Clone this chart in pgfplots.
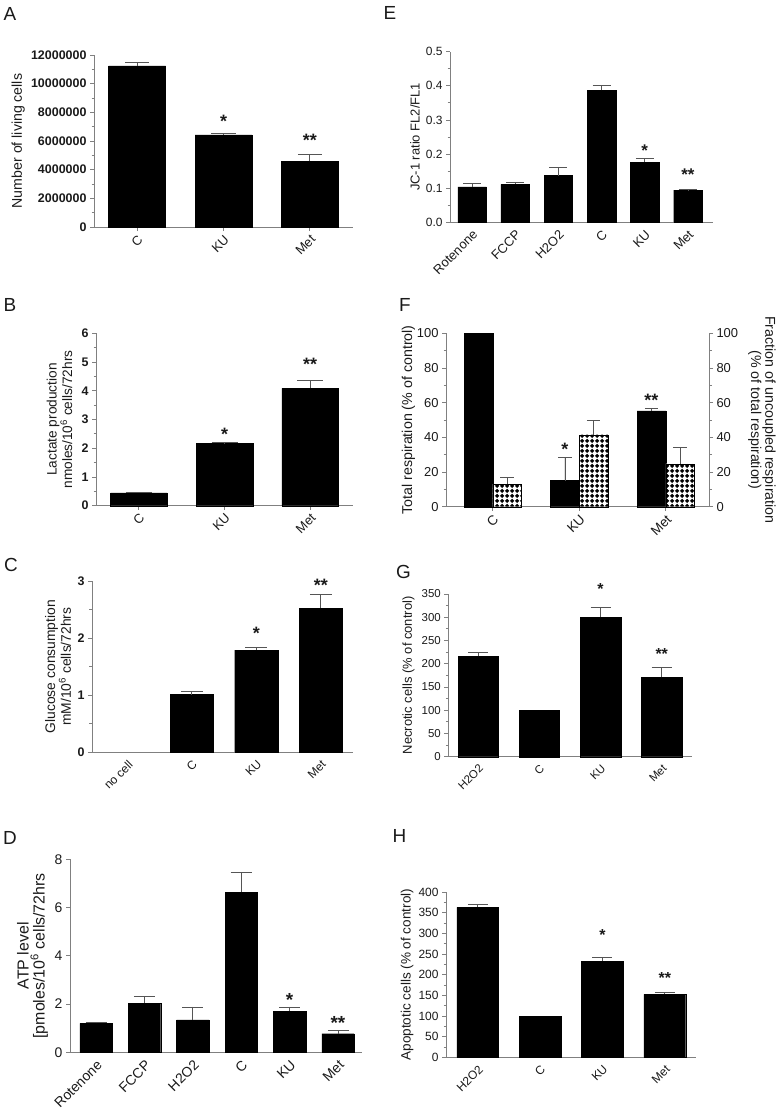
\documentclass[border=0pt]{standalone}
\usepackage{fontspec}
\setmainfont{Liberation Sans}
\usepackage{pgfplots}
\pgfplotsset{compat=1.18}
\usetikzlibrary{patterns}

\definecolor{axgray}{HTML}{808080}
\definecolor{txt}{HTML}{1A1A1A}
\definecolor{errgray}{HTML}{555555}

% rotated checkerboard used for the uncoupled fraction in F
\pgfdeclarepatternformonly{diamonds}{\pgfpointorigin}{\pgfpoint{5bp}{5bp}}{\pgfpoint{5bp}{5bp}}{%
  \pgfpathmoveto{\pgfpoint{2.5bp}{-0.1bp}}%
  \pgfpathlineto{\pgfpoint{5.1bp}{2.5bp}}%
  \pgfpathlineto{\pgfpoint{2.5bp}{5.1bp}}%
  \pgfpathlineto{\pgfpoint{-0.1bp}{2.5bp}}%
  \pgfpathclose\pgfusepath{fill}}

\newcommand{\fs}[1]{\fontsize{#1}{#1}\selectfont}

\pgfplotsset{
  panel/.style={
    scale only axis, anchor=south west,
    axis lines*=left,
    axis line style={draw=axgray, line width=1bp},
    tick style={draw=axgray, line width=0.8bp},
    tick align=outside, major tick length=4bp, minor tick length=2.5bp,
    ybar, clip=false, ymin=0, enlargelimits=false,
    /pgf/number format/assume math mode=true,
    xticklabel style={rotate=45, anchor=north east, text=txt, inner sep=2bp},
    yticklabel style={text=txt},
    minor y tick num=1,
  },
  noxticks/.style={xtick style={draw=none}},
  ylab/.style 2 args={every axis y label/.style={at={(axis description cs:#1,0.5)},
    rotate=90, anchor=center, align=center, text=txt, font=\fs{#2}}},
  bars/.style 2 args={fill=black, draw=black, bar shift=0pt, bar width=#1,
    error bars/.cd, y dir=plus, y explicit,
    error bar style={draw=errgray, line width=0.9bp},
    error mark options={rotate=90, draw=errgray, line width=0.9bp, mark size=#2},
    /pgfplots/.cd},
  plainbars/.style={fill=black, draw=black, bar shift=0pt, bar width=#1},
}
\tikzset{sig/.style={font=\fs{#1}\bfseries, text=txt, anchor=center, inner sep=0pt, yshift={-0.22*#1bp}}}

\begin{document}
\begin{tikzpicture}
\path[use as bounding box] (0,0) rectangle (782bp,-1113bp);

% ---------------- A
\begin{axis}[panel, at={(94bp,-227bp)}, width=259bp, height=172bp,
  xmin=-0.5, xmax=2.5, ymax=12000000,
  ytick={0,2000000,4000000,6000000,8000000,10000000,12000000},
  scaled y ticks=false,
  yticklabel style={/pgf/number format/fixed, /pgf/number format/1000 sep={}, font=\fs{12.5}\bfseries},
  xtick={0,1,2}, xticklabels={C,KU,Met}, xticklabel style={font=\fs{13}},
  ylabel={Number of living cells}, ylab={-0.293}{14.2}]
\addplot[bars={0.66}{12bp}] table[x=x,y=y,y error=e]{
x y e
0 11250000 240000
1 6420000 80000
2 4580000 510000
};
\node[sig=18] at (axis cs:1,7670000) {*};
\node[sig=18] at (axis cs:2,6350000) {**};
\end{axis}

% ---------------- B
\begin{axis}[panel, at={(96bp,-505.7bp)}, width=257bp, height=172.4bp,
  xmin=-0.5, xmax=2.5, ymax=6, ytick={0,1,...,6},
  yticklabel style={font=\fs{12.5}\bfseries},
  xtick={0,1,2}, xticklabels={C,KU,Met}, xticklabel style={font=\fs{13}},
  ylabel={Lactate production\\nmoles/10\textsuperscript{6} cells/72hrs}, ylab={-0.142}{13.7}]
\addplot[bars={0.66}{13bp}] table[x=x,y=y,y error=e]{
x y e
0 0.45 0.02
1 2.16 0.03
2 4.08 0.28
};
\node[sig=18] at (axis cs:1,2.63) {*};
\node[sig=18] at (axis cs:2,5.07) {**};
\end{axis}

% ---------------- C
\begin{axis}[panel, noxticks, at={(92bp,-752.3bp)}, width=261bp, height=171.3bp,
  xmin=-0.55, xmax=3.5, ymax=3, ytick={0,1,2,3},
  yticklabel style={font=\fs{12.5}\bfseries},
  xtick={0,1,2,3}, xticklabels={no cell,C,KU,Met}, xticklabel style={font=\fs{12}},
  ylabel={Glucose consumption\\mM/10\textsuperscript{6} cells/72hrs}, ylab={-0.130}{13.9}]
\addplot[bars={0.67}{11bp}] table[x=x,y=y,y error=e]{
x y e
1 1.01 0.05
2 1.79 0.05
3 2.52 0.25
};
\node[sig=18] at (axis cs:2,2.16) {*};
\node[sig=18] at (axis cs:3,3.0) {**};
\end{axis}

% ---------------- D
\begin{axis}[panel, noxticks, at={(70bp,-1052.3bp)}, width=291.7bp, height=193bp,
  xmin=-0.54, xmax=5.49, ymax=8, ytick={0,2,4,6,8}, minor y tick num=0,
  yticklabel style={font=\fs{14}},
  xtick={0,...,5}, xticklabels={Rotenone,FCCP,H2O2,C,KU,Met}, xticklabel style={font=\fs{14}},
  ylabel={ATP level\\{[}pmoles/10\textsuperscript{6} cells/72hrs}, ylab={-0.1286}{16}]
\addplot[bars={0.67}{10.5bp}] table[x=x,y=y,y error=e]{
x y e
0 1.20 0.04
1 2.04 0.29
2 1.34 0.54
3 6.63 0.83
4 1.71 0.17
5 0.77 0.14
};
\node[sig=19] at (axis cs:4,2.35) {*};
\node[sig=19] at (axis cs:5,1.37) {**};
\end{axis}

% ---------------- E
\begin{axis}[panel, noxticks, at={(450bp,-222.3bp)}, width=263bp, height=170.6bp,
  xmin=-0.51, xmax=5.58, ymax=0.5, ytick={0,0.1,0.2,0.3,0.4,0.5},
  yticklabel style={/pgf/number format/.cd, fixed, fixed zerofill, precision=1, /tikz/font=\fs{12}},
  xtick={0,...,5}, xticklabels={Rotenone,FCCP,H2O2,C,KU,Met}, xticklabel style={font=\fs{13}},
  ylabel={JC-1 ratio FL2/FL1}, ylab={-0.133}{13}]
\addplot[bars={0.66}{9bp}] table[x=x,y=y,y error=e]{
x y e
0 0.104 0.010
1 0.111 0.005
2 0.137 0.023
3 0.387 0.015
4 0.176 0.010
5 0.094 0.001
};
\node[sig=17] at (axis cs:4,0.221) {*};
\node[sig=17] at (axis cs:5,0.150) {**};
\end{axis}

% ---------------- F
\begin{axis}[panel, at={(446bp,-506.7bp)}, width=263bp, height=173.4bp,
  xmin=-0.54, xmax=2.5, ymax=100, ytick={0,20,...,100},
  yticklabel style={font=\fs{13}},
  xtick={0,1,2}, xticklabels={C,KU,Met}, xticklabel style={font=\fs{13.5}},
  ylabel={Total respiration (\% of control)}, ylab={-0.1426}{14.3}]
\addplot[plainbars=0.33, /pgf/bar shift=-0.165] table[x=x,y=y]{
x y
0 100
};
\addplot[bars={0.33}{6.7bp}, /pgf/bar shift=-0.165] table[x=x,y=y,y error=e]{
x y e
1 15.0 13.3
2 55.2 1.5
};
\addplot[draw=black, fill=white, postaction={pattern=diamonds}, /pgf/bar width=0.33, /pgf/bar shift=0.165,
  error bars/.cd, y dir=plus, y explicit,
  error bar style={draw=errgray, line width=0.9bp},
  error mark options={rotate=90, draw=errgray, line width=0.9bp, mark size=6.7bp}]
  table[x=x,y=y,y error=e]{
x y e
0 13.0 3.7
1 41.5 8.3
2 24.8 9.5
};
\node[sig=18] at (axis cs:0.835,35.6) {*};
\node[sig=18] at (axis cs:1.835,63.4) {**};
\end{axis}
\begin{axis}[scale only axis, anchor=south west, at={(446bp,-506.7bp)}, width=263bp, height=173.4bp,
  axis x line=none, axis y line*=right,
  axis line style={draw=axgray, line width=1bp},
  tick style={draw=axgray, line width=0.8bp},
  tick align=outside, major tick length=4bp, minor tick length=2.5bp,
  xmin=0, xmax=1, ymin=0, ymax=100, ytick={0,20,...,100}, minor y tick num=1,
  /pgf/number format/assume math mode=true,
  yticklabel style={font=\fs{13}, text=txt},
  ylabel={Fraction of uncoupled respiration\\(\% of total respiration)},
  every axis y label/.style={at={(axis description cs:1.2015,0.5)}, rotate=-90,
    anchor=center, align=center, text=txt, font=\fs{14.3}}]
\end{axis}

% ---------------- G
\begin{axis}[panel, noxticks, at={(448.3bp,-756.7bp)}, width=243.4bp, height=162.7bp,
  xmin=-0.49, xmax=3.49, ymax=350, ytick={0,50,...,350},
  yticklabel style={font=\fs{11.5}},
  xtick={0,1,2,3}, xticklabels={H2O2,C,KU,Met}, xticklabel style={font=\fs{11.5}},
  ylabel={Necrotic cells (\% of control)}, ylab={-0.1635}{13}]
\addplot[bars={0.66}{10bp}] table[x=x,y=y,y error=e]{
x y e
0 216 8
2 300.5 20
3 170.8 21
};
\addplot[plainbars=0.66] table[x=x,y=y]{
x y
1 100
};
\node[sig=16] at (axis cs:2,369) {*};
\node[sig=16] at (axis cs:3,229.5) {**};
\end{axis}

% ---------------- H
\begin{axis}[panel, noxticks, at={(446bp,-1057.3bp)}, width=250bp, height=165.3bp,
  xmin=-0.51, xmax=3.5, ymax=400, ytick={0,50,...,400},
  yticklabel style={font=\fs{12}},
  xtick={0,1,2,3}, xticklabels={H2O2,C,KU,Met}, xticklabel style={font=\fs{12}},
  ylabel={Apoptotic cells (\% of control)}, ylab={-0.156}{13.6}]
\addplot[bars={0.67}{10bp}] table[x=x,y=y,y error=e]{
x y e
0 363 6
2 232 9
3 152.4 5
};
\addplot[plainbars=0.67] table[x=x,y=y]{
x y
1 100
};
\node[sig=16] at (axis cs:2,304) {*};
\node[sig=16] at (axis cs:3,201.6) {**};
\end{axis}

% panel letters
\node[font=\fs{19}, text=txt] at (10bp,-13.5bp) {A};
\node[font=\fs{19}, text=txt] at (10bp,-305bp) {B};
\node[font=\fs{19}, text=txt] at (11bp,-565bp) {C};
\node[font=\fs{19}, text=txt] at (10bp,-837.5bp) {D};
\node[font=\fs{19}, text=txt] at (390bp,-13bp) {E};
\node[font=\fs{19}, text=txt] at (405bp,-305bp) {F};
\node[font=\fs{19}, text=txt] at (403.5bp,-571.5bp) {G};
\node[font=\fs{19}, text=txt] at (399.5bp,-835.5bp) {H};
\end{tikzpicture}
\end{document}
